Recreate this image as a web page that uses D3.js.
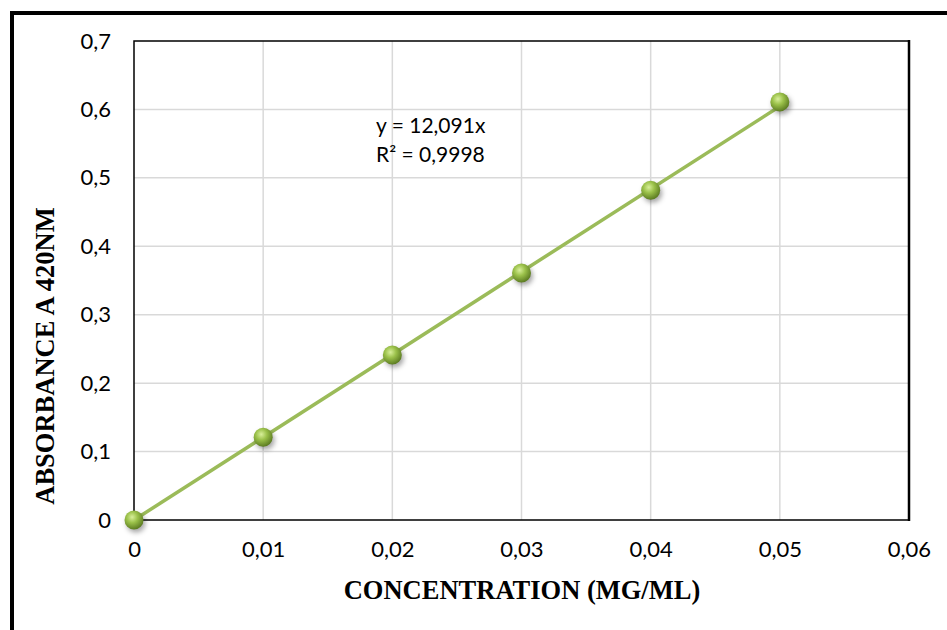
<!DOCTYPE html>
<html>
<head>
<meta charset="utf-8">
<script src="https://cdn.jsdelivr.net/npm/d3@7"></script>
<style>
  body { margin: 0; background: #fff; }
  svg { display: block; }
</style>
</head>
<body>
<svg id="chart" width="947" height="630"></svg>
<script>
var concentration = [0, 0.01, 0.02, 0.03, 0.04, 0.05];
var absorbance = [0, 0.121, 0.241, 0.361, 0.482, 0.611];
var xTicks = [0, 0.01, 0.02, 0.03, 0.04, 0.05, 0.06];
var yTicks = [0, 0.1, 0.2, 0.3, 0.4, 0.5, 0.6, 0.7];
var pente = 12.091;
var equation = ["y = 12,091x", "R² = 0,9998"];

var svg = d3.select("#chart");
var mLeft = 134, mRight = 909, mTop = 41, mBottom = 520;

var x = d3.scaleLinear().domain([0, 0.06]).range([mLeft, mRight]);
var y = d3.scaleLinear().domain([0, 0.7]).range([mBottom, mTop]);
var fmt = function(d){ return d3.format("~g")(+d.toFixed(2)).replace(".", ","); };
var police = "Lato, 'Open Sans', sans-serif";

// cadre extérieur
svg.append("path")
    .attr("d", "M12,632 L12,13 L950,13")
    .attr("fill", "none")
    .attr("stroke", "black")
    .attr("stroke-width", 4);

var defs = svg.append("defs");
var grad = defs.append("radialGradient")
    .attr("id", "bille")
    .attr("cx", "40%").attr("cy", "35%").attr("r", "65%");
grad.append("stop").attr("offset", "0%").attr("stop-color", "#d8ef9a");
grad.append("stop").attr("offset", "45%").attr("stop-color", "#9bc14a");
grad.append("stop").attr("offset", "100%").attr("stop-color", "#5d7d22");
var ombre = defs.append("filter").attr("id", "ombre")
    .attr("x", "-50%").attr("y", "-50%").attr("width", "200%").attr("height", "200%");
ombre.append("feGaussianBlur").attr("stdDeviation", 2.5);

// grille
svg.append("g").selectAll("line").data(xTicks.slice(1, -1)).enter().append("line")
    .attr("x1", d => x(d)).attr("x2", d => x(d))
    .attr("y1", mTop).attr("y2", mBottom)
    .attr("stroke", "#d9d9d9").attr("stroke-width", 1.5);
svg.append("g").selectAll("line").data(yTicks.slice(1, -1)).enter().append("line")
    .attr("x1", mLeft).attr("x2", mRight)
    .attr("y1", d => y(d)).attr("y2", d => y(d))
    .attr("stroke", "#d9d9d9").attr("stroke-width", 1.5);

// bordure zone de tracé
svg.append("rect")
    .attr("x", mLeft).attr("y", mTop)
    .attr("width", mRight - mLeft).attr("height", mBottom - mTop)
    .attr("fill", "none").attr("stroke", "black").attr("stroke-width", 1.5);
svg.append("line")
    .attr("x1", mRight).attr("x2", mRight).attr("y1", mTop - 1).attr("y2", mBottom + 1)
    .attr("stroke", "black").attr("stroke-width", 2.5);

// étiquettes des axes
var xAxis = d3.axisBottom(x).tickValues(xTicks).tickSize(0).tickPadding(20).tickFormat(fmt);
var gx = svg.append("g").attr("transform", "translate(0," + mBottom + ")").call(xAxis);
var yAxis = d3.axisLeft(y).tickValues(yTicks).tickSize(0).tickPadding(23).tickFormat(fmt);
var gy = svg.append("g").attr("transform", "translate(" + mLeft + ",0)").call(yAxis);
[gx, gy].forEach(function(g){
    g.select(".domain").remove();
    g.selectAll("text")
        .style("font-family", police)
        .style("font-size", "22px")
        .attr("fill", "black");
});
gx.selectAll("text").attr("dy", "0.75em");

// courbe de tendance
svg.append("line")
    .attr("x1", x(0)).attr("y1", y(0))
    .attr("x2", x(0.05)).attr("y2", y(pente * 0.05))
    .attr("stroke", "#9bbb59").attr("stroke-width", 3.5);

// points
var pts = concentration.map(function(c, i){ return [c, absorbance[i]]; });
svg.append("g").selectAll("circle").data(pts).enter().append("circle")
    .attr("cx", d => x(d[0]) + 2).attr("cy", d => y(d[1]) + 3)
    .attr("r", 9.5).attr("fill", "rgba(0,0,0,0.35)")
    .attr("filter", "url(#ombre)");
svg.append("g").selectAll("circle").data(pts).enter().append("circle")
    .attr("cx", d => x(d[0])).attr("cy", d => y(d[1]))
    .attr("r", 9.5).attr("fill", "url(#bille)");

// équation
svg.append("g").selectAll("text").data(equation).enter().append("text")
    .attr("x", 376).attr("y", (d, i) => 133 + i * 29)
    .style("font-family", police)
    .style("font-size", "21px")
    .text(d => d);

// titres
svg.append("text")
    .attr("x", 522).attr("y", 599)
    .attr("text-anchor", "middle")
    .style("font-family", "'Liberation Serif', 'Times New Roman', serif")
    .style("font-weight", "bold")
    .style("font-size", "26.5px")
    .text("CONCENTRATION (MG/ML)");
svg.append("text")
    .attr("transform", "translate(54,356) rotate(-90)")
    .attr("text-anchor", "middle")
    .style("font-family", "'Liberation Serif', 'Times New Roman', serif")
    .style("font-weight", "bold")
    .style("font-size", "26.5px")
    .text("ABSORBANCE A  420NM");
</script>
</body>
</html>
